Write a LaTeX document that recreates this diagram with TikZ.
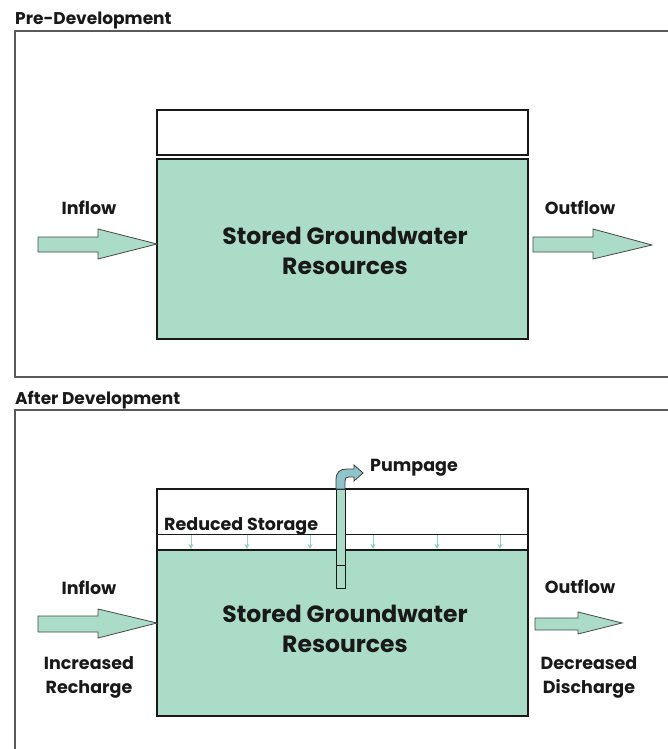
\documentclass[tikz,border=0pt]{standalone}
\usepackage{fontspec}
\setmainfont{Poppins}
\usetikzlibrary{arrows.meta}
\definecolor{gw}{RGB}{170,220,199}
\definecolor{gwarrow}{RGB}{150,210,185}
\definecolor{pipe}{RGB}{143,196,203}
\definecolor{frameg}{RGB}{90,90,90}
\definecolor{ink}{RGB}{25,25,25}
\tikzset{
  frame/.style={draw=frameg,line width=1.3pt},
  boxw/.style={draw=ink,line width=1.2pt,fill=white},
  boxg/.style={draw=ink,line width=1.2pt,fill=gw},
  blockarrow/.style={draw=ink!80,line width=0.8pt,fill=gw},
  lbl/.style={font=\fontsize{17.5}{20}\selectfont\bfseries,text=ink,inner sep=0pt},
  lbl2/.style={font=\fontsize{17.5}{24}\selectfont\bfseries,text=ink,inner sep=0pt,align=center},
  head/.style={font=\fontsize{17}{20}\selectfont\bfseries,text=ink,inner sep=0pt,anchor=west},
  big/.style={font=\fontsize{23.5}{30.5}\selectfont\bfseries,text=ink,inner sep=0pt,align=center},
  drop/.style={draw=gwarrow,line width=0.8pt,-{Stealth[length=5pt,width=5pt]}}
}
\begin{document}
\begin{tikzpicture}[x=1pt,y=-1pt]
\useasboundingbox (0,0) rectangle (667,749);
% ---------- Pre-development ----------
\node[head] (h1) at (15,20) {Pre-Development};
\draw[frame] (668,31) -- (15,31) -- (15,377) -- (668,377);
\draw[boxw] (157,110) rectangle (528,155);
\draw[boxg] (157,159) rectangle (528,339);
\node[big] (s1) at (345,251) {Stored Groundwater\\Resources};
\draw[blockarrow] (38,237) -- (98,237) -- (98,229) -- (157,244) -- (98,259) -- (98,252) -- (38,252) -- cycle;
\draw[blockarrow] (533,237) -- (593,237) -- (593,229) -- (652,245) -- (593,259) -- (593,252) -- (533,252) -- cycle;
\node[lbl] (in1) at (89,208) {Inflow};
\node[lbl] (out1) at (580,208) {Outflow};
% ---------- After development ----------
\node[head] (h2) at (15,400) {After Development};
\draw[frame] (668,410) -- (15,410) -- (15,752);
\draw[boxw] (157,489) rectangle (528,550);
\draw[draw=ink,line width=0.8pt] (157,534) -- (528,534);
\draw[boxg] (157,550) rectangle (528,716);
\foreach \xx in {191,247,310,373,437,500}{
  \draw[drop] (\xx,535) -- (\xx,549);
}
\node[lbl,anchor=west] (rs) at (164,526) {Reduced Storage};
% well
\draw[draw=ink,line width=0.9pt,fill=gw] (336,489) rectangle (345,565);
\draw[draw=ink,line width=0.9pt,fill=gw] (336,565) rectangle (345,588);
% pumpage pipe
\draw[draw=ink!85,line width=0.8pt,fill=pipe]
  (336,489) -- (336,480) .. controls (336,472) and (340,469) .. (347,469) -- (354,469)
  -- (354,465) -- (363,473) -- (354,481) -- (354,477) -- (349,477)
  .. controls (346,477) and (345,478) .. (345,481) -- (345,489) -- cycle;
\node[lbl,anchor=west] (pump) at (370,468) {Pumpage};
\node[big] (s2) at (345,629) {Stored Groundwater\\Resources};
\draw[blockarrow] (38,616) -- (98,616) -- (98,609) -- (157,623) -- (98,638) -- (98,632) -- (38,632) -- cycle;
\draw[blockarrow] (535,618) -- (578,618) -- (578,612) -- (622,623) -- (578,634) -- (578,630) -- (535,630) -- cycle;
\node[lbl] (in2) at (89,588) {Inflow};
\node[lbl] (out2) at (580,587) {Outflow};
\node[lbl2] (rech) at (89,677) {Increased\\Recharge};
\node[lbl2] (dis) at (589,677) {Decreased\\Discharge};
\end{tikzpicture}
\end{document}
